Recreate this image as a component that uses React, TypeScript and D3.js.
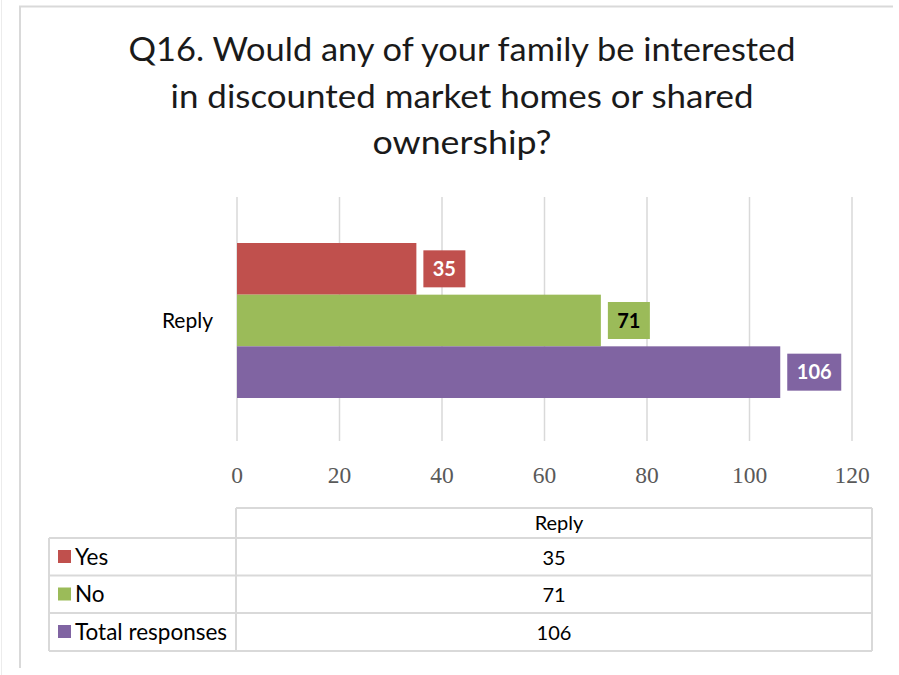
import { useEffect, useRef } from 'react';
import * as d3 from 'd3';

const titleLines = [
    'Q16. Would any of your family be interested',
    'in discounted market homes or shared',
    'ownership?'
];
const titleWidths = [667, 583, 179];
const category = 'Reply';
const seriesNames = ['Yes', 'No', 'Total responses'];
const seriesValues = [35, 71, 106];
const seriesColors = ['#c0504d', '#9bbb59', '#8064a2'];
const labelTextColors = ['#ffffff', '#000000', '#ffffff'];
const xTicks = [0, 20, 40, 60, 80, 100, 120];

export default function App() {
    const svgRef = useRef<SVGSVGElement>(null);

    useEffect(() => {
        if (!svgRef.current) return;
        document.body.style.margin = '0';

        const width = 899;
        const height = 675;
        const sans = 'Lato, "Noto Sans", sans-serif';
        const serif = '"Liberation Serif", "DejaVu Serif", serif';
        const grid = '#d9d9d9';

        const svg = d3.select(svgRef.current)
            .attr('width', width)
            .attr('height', height);
        svg.selectAll('*').remove();

        svg.append('rect').attr('width', width).attr('height', height).attr('fill', '#fff');

        // chart area frame (top + left edges visible)
        svg.append('path')
            .attr('d', 'M20,668 L20,6.5 L893,6.5')
            .attr('fill', 'none')
            .attr('stroke', '#d9d9d9')
            .attr('stroke-width', 2);
        svg.append('line')
            .attr('x1', 1.5).attr('x2', 1.5).attr('y1', 0).attr('y2', 675)
            .attr('stroke', '#ececec');

        // title
        svg.append('g')
            .selectAll('text')
            .data(titleLines)
            .join('text')
            .attr('x', 462)
            .attr('y', (_, i) => 61 + i * 46.5)
            .attr('text-anchor', 'middle')
            .attr('font-family', sans)
            .attr('font-size', 32)
            .attr('fill', '#1a1a1a')
            .attr('textLength', (_, i) => titleWidths[i])
            .attr('lengthAdjust', 'spacingAndGlyphs')
            .text(d => d);

        const x = d3.scaleLinear().domain([0, 120]).range([237, 852]);
        const y = d3.scaleBand<string>().domain(seriesNames).range([243, 398]).padding(0);

        // gridlines
        svg.append('g')
            .selectAll('line')
            .data(xTicks)
            .join('line')
            .attr('x1', d => x(d)).attr('x2', d => x(d))
            .attr('y1', 197).attr('y2', 441)
            .attr('stroke', grid)
            .attr('stroke-width', 1.5);

        // tick labels
        svg.append('g')
            .selectAll('text')
            .data(xTicks)
            .join('text')
            .attr('x', d => x(d))
            .attr('y', 483)
            .attr('text-anchor', 'middle')
            .attr('font-family', serif)
            .attr('font-size', 23.5)
            .attr('fill', '#595959')
            .text(d => d);

        // category label
        svg.append('text')
            .attr('x', 213)
            .attr('y', 328)
            .attr('text-anchor', 'end')
            .attr('font-family', sans)
            .attr('font-size', 21)
            .attr('fill', '#000')
            .text(category);

        // bars
        const rows = seriesNames.map((name, i) => ({
            name, value: seriesValues[i], color: seriesColors[i], textColor: labelTextColors[i]
        }));

        svg.append('g')
            .selectAll('rect')
            .data(rows)
            .join('rect')
            .attr('x', x(0))
            .attr('y', d => y(d.name)!)
            .attr('width', d => x(d.value) - x(0))
            .attr('height', y.bandwidth())
            .attr('fill', d => d.color);

        // data labels
        const boxW = (v: number) => String(v).length * 12 + 18;
        const labels = svg.append('g')
            .selectAll('g')
            .data(rows)
            .join('g')
            .attr('transform', d => `translate(${x(d.value) + 7},${y(d.name)! + y.bandwidth() / 2})`);

        labels.append('rect')
            .attr('x', 0)
            .attr('y', -18.5)
            .attr('width', d => boxW(d.value))
            .attr('height', 37)
            .attr('fill', d => d.color);

        labels.append('text')
            .attr('x', d => boxW(d.value) / 2)
            .attr('y', 7)
            .attr('text-anchor', 'middle')
            .attr('font-family', sans)
            .attr('font-weight', 'bold')
            .attr('font-size', 20)
            .attr('fill', d => d.textColor)
            .text(d => d.value);

        // data table
        const tableLeft = 49;
        const colX = 236;
        const tableRight = 872;
        const headerTop = 508;
        const rowTops = [538, 575.5, 613];
        const tableBottom = 651;
        const t = svg.append('g');

        const lineStyle = (sel: d3.Selection<SVGLineElement, unknown, null, undefined>) =>
            sel.attr('stroke', grid).attr('stroke-width', 2);

        t.append('line').attr('x1', colX).attr('x2', tableRight).attr('y1', headerTop).attr('y2', headerTop).call(lineStyle);
        t.append('line').attr('x1', colX).attr('x2', colX).attr('y1', headerTop).attr('y2', tableBottom).call(lineStyle);
        t.append('line').attr('x1', tableRight).attr('x2', tableRight).attr('y1', headerTop).attr('y2', tableBottom).call(lineStyle);
        t.append('line').attr('x1', tableLeft).attr('x2', tableLeft).attr('y1', rowTops[0]).attr('y2', tableBottom).call(lineStyle);
        [...rowTops, tableBottom].forEach(yy => {
            t.append('line').attr('x1', tableLeft).attr('x2', tableRight).attr('y1', yy).attr('y2', yy).call(lineStyle);
        });

        t.append('text')
            .attr('x', (colX + tableRight) / 2 + 5)
            .attr('y', headerTop + 22)
            .attr('text-anchor', 'middle')
            .attr('font-family', sans)
            .attr('font-size', 20)
            .attr('fill', '#000')
            .text(category);

        rows.forEach((r, i) => {
            const top = rowTops[i];
            const mid = top + 19;
            t.append('rect')
                .attr('x', 58).attr('y', mid - 7)
                .attr('width', 13).attr('height', 13)
                .attr('fill', r.color);
            t.append('text')
                .attr('x', 75).attr('y', mid + 7.5)
                .attr('font-family', sans)
                .attr('font-size', 22.5)
                .attr('fill', '#000')
                .text(r.name);
            t.append('text')
                .attr('x', (colX + tableRight) / 2).attr('y', mid + 7.5)
                .attr('text-anchor', 'middle')
                .attr('font-family', sans)
                .attr('font-size', 20)
                .attr('fill', '#000')
                .text(r.value);
        });
    }, []);

    return <svg ref={svgRef} style={{ display: 'block' }}></svg>;
}
